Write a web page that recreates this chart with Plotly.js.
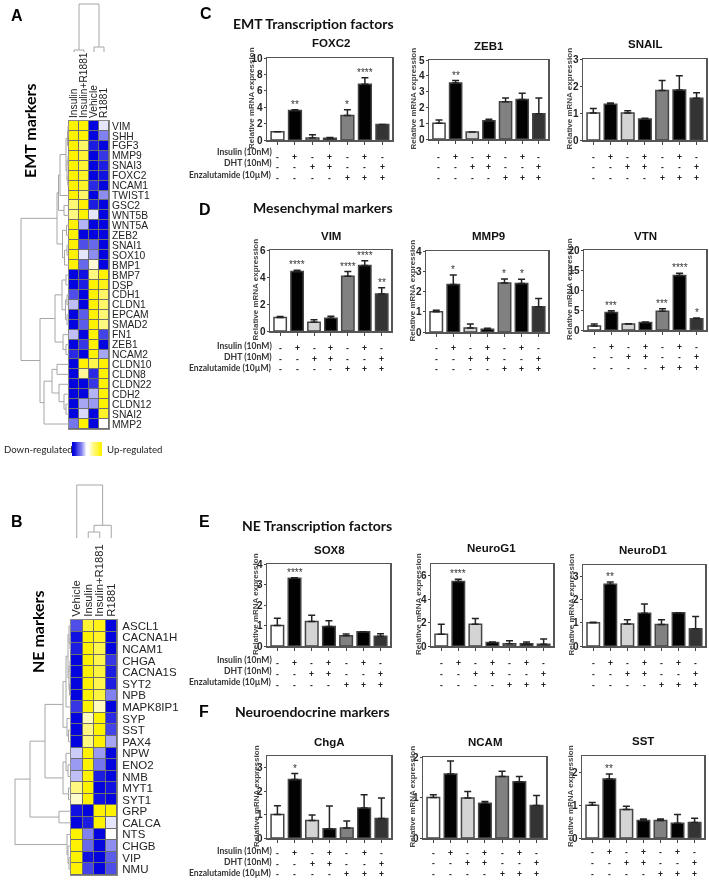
<!DOCTYPE html>
<html><head><meta charset="utf-8">
<script src="https://cdn.plot.ly/plotly-3.0.1.min.js"></script>
<style>html,body{margin:0;padding:0;background:#fff}
.main-svg .infolayer,.main-svg .cartesianlayer{opacity:.995}</style></head>
<body><div id="chart" style="width:709px;height:880px"></div>
<script>
// ---------- DATA ----------
const emtCols = ['Insulin','Insulin+R1881','Vehicle','R1881'];
const emtRows = ['VIM','SHH','FGF3','MMP9','SNAI3','FOXC2','NCAM1','TWIST1','GSC2','WNT5B','WNT5A','ZEB2','SNAI1','SOX10','BMP1','BMP7','DSP','CDH1','CLDN1','EPCAM','SMAD2','FN1','ZEB1','NCAM2','CLDN10','CLDN8','CLDN22','CDH2','CLDN12','SNAI2','MMP2'];
const emtZ = [[1,1,-1,-.1],[1,1,-1,-.5],[1,.6,-.9,-1],[1,.8,-1,-.8],[1,.8,-1,-.9],[1,.85,-1,-.95],[1,.85,-.85,-1],[1,.6,-1,-.45],[.55,1,-.9,-1],[.5,1,-.1,-1],[1,-.3,-1,-1],[1,-1,-1,-1],[1,-.7,-.6,-1],[1,-.1,-.45,-1],[1,-.6,.15,-1],[-1,-.95,.5,1],[-1,-.9,1,.9],[-.7,-1,1,.6],[-.25,-1,1,.6],[-1,-.65,1,.55],[-1,-.65,1,.5],[-.25,-1,1,-.75],[-1,-.8,1,-1],[-.85,-1,1,-.35],[-1,1,.7,1],[-1,.4,-.85,1],[-1,-1,-.8,1],[-1,-1,-.3,1],[-1,-.35,-.4,1],[-1,-.15,-1,.85],[-.55,1,-1,0]];
const neCols = ['Vehicle','Insulin','Insulin+R1881','R1881'];
const neRows = ['ASCL1','CACNA1H','NCAM1','CHGA','CACNA1S','SYT2','NPB','MAPK8IP1','SYP','SST','PAX4','NPW','ENO2','NMB','MYT1','SYT1','GRP','CALCA','NTS','CHGB','VIP','NMU'];
const neZ = [[-.7,.8,.9,-1],[-.95,1,.85,-1],[-.9,1,.7,-1],[-1,1,.7,-.8],[-1,1,.75,-.9],[-1,1,.7,-.9],[-1,1,.75,-.5],[-.8,1,.25,-1],[-1,.25,1,-.85],[-1,.5,1,-.75],[-1,.5,1,-.35],[-.2,1,-.4,-1],[-.4,1,-.55,-1],[-.25,1,-.9,-1],[.5,1,-1,-.95],[.2,1,-.95,-1],[-.95,-1,1,1],[-1,-.9,1,-.1],[1,-.5,-1,0],[1,-.6,-1,-.45],[1,-.95,-1,-.65],[1,-.75,-1,-.7]];
const colorKey = [-1,-.9,-.75,-.6,-.4,-.2,0,0,.2,.4,.6,.75,.9,1];
// dendrograms: [height, childA, childB]; a number is a leaf index
const emtRowTree = [48,
  [12,[10.5,[9,[3,[1.5,[1,0,1],2],[2,[1,3,4],[1.2,5,6]]],7],[5,8,9]],[6.5,[2.5,10,11],[4.5,[2,12,13],14]]],
  [29,[14,[7,[3,15,16],[3.5,[2,17,18],[2,19,20]]],[6,21,[3,22,23]]],
      [25,[17,[12,24,25],[10,26,[5,27,[3,28,29]]]],30]]];
const emtColTree = [48,[2,0,1],[5,2,3]];
const neRowTree = [56,[41,[26,[8,[5,[3,[2,0,[1,1,2]],[2,[1,3,4],[1.5,5,6]]],7],[4,8,[2.5,9,10]]],[8,[5,11,[3,12,13]],[2.5,14,15]]],[12,16,17]],[4,18,[3,19,[2,20,21]]]];
const neColTree = [53,0,[12.7,[6,1,2],3]];

const barColors = ['#ffffff','#000000','#d4d4d4','#000000','#808080','#000000','#333333'];
const insulinSigns = ['-','+','-','+','-','+','-'];
const dhtSigns = ['-','-','+','+','-','-','+'];
const enzaSigns = ['-','-','-','-','+','+','+'];
const signLabels = ['Insulin (10nM)','DHT (10nM)','Enzalutamide (10µM)'];

const foxc2Mean=[1,3.6,.25,.2,3,6.8,1.9],   foxc2Err=[0,.1,.4,.1,.7,.8,0],     foxc2Stars=['','**','','','*','****',''];
const zeb1Mean=[1,3.55,.45,1.15,2.35,2.5,1.6], zeb1Err=[.2,.15,0,.1,.25,.4,1], zeb1Stars=['','**','','','','',''];
const snailMean=[1,1.32,1,.78,1.83,1.85,1.55], snailErr=[.17,.05,.08,.03,.37,.53,.2], snailStars=['','','','','','',''];
const vimMean=[1,4.4,.65,.95,4.05,4.85,2.75], vimErr=[.08,.1,.18,.15,.35,.35,.45], vimStars=['','****','','','****','****','**'];
const mmp9Mean=[1,2.35,.2,.13,2.42,2.4,1.25], mmp9Err=[.08,.47,.2,.05,.2,.2,.4], mmp9Stars=['','*','','','*','*',''];
const vtnMean=[1,4.4,1.5,1.9,4.7,13.6,2.8], vtnErr=[.5,.4,.05,.1,.6,.6,.2], vtnStars=['','***','','','***','****','*'];
const sox8Mean=[1,3.3,1.2,.95,.5,.7,.48], sox8Err=[.35,.03,.3,.28,.08,0,.12], sox8Stars=['','****','','','','',''];
const neurog1Mean=[1,5.5,1.85,.3,.2,.2,.15], neurog1Err=[.85,.2,.5,.05,.25,.15,.45], neurog1Stars=['','****','','','','',''];
const neurod1Mean=[1,2.67,.95,1.42,.93,1.44,.75], neurod1Err=[.03,.1,.18,.4,.2,0,.53], neurod1Stars=['','**','','','','',''];
const chgaMean=[1,2.5,.75,.4,.43,1.28,.83], chgaErr=[.38,.25,.23,.97,.3,.57,.88], chgaStars=['','*','','','','',''];
const ncamMean=[1,1.58,.99,.86,1.52,1.39,.8], ncamErr=[.07,.32,.16,.04,.13,.13,.25], ncamStars=['','','','','','',''];
const sstMean=[1,1.8,.87,.53,.53,.45,.47], sstErr=[.08,.15,.1,.05,.05,.27,.13], sstStars=['','**','','','','',''];

// ---------- LAYOUT ----------
const W=709,H=880;
const px=x=>x/W, py=y=>1-y/H;
const yTitle='Relative mRNA expression';
const panels=[
 {t:'FOXC2',m:foxc2Mean,e:foxc2Err,s:foxc2Stars,ymax:10,dt:2,box:[267,392,58,140],tp:[331,43],yt:252,rows:[17,27,38],lab:[12,23,35]},
 {t:'ZEB1',m:zeb1Mean,e:zeb1Err,s:zeb1Stars,ymax:5,dt:1,box:[429,548,60,139],tp:[489,46],yt:413,rows:[18,28,39]},
 {t:'SNAIL',m:snailMean,e:snailErr,s:snailStars,ymax:3,dt:1,box:[583,706,59,140],tp:[645,44],yt:569,rows:[17,27,38]},
 {t:'VIM',m:vimMean,e:vimErr,s:vimStars,ymax:6,dt:2,box:[270,391,250,331],tp:[331,236],yt:255,rows:[17,28,38],lab:[15,26,37]},
 {t:'MMP9',m:mmp9Mean,e:mmp9Err,s:mmp9Stars,ymax:4,dt:1,box:[426,548,251,332],tp:[488,236],yt:412,rows:[16,27,37]},
 {t:'VTN',m:vtnMean,e:vtnErr,s:vtnStars,ymax:20,dt:5,box:[584,706,250,330],tp:[645,236],yt:570,rows:[17,27,38]},
 {t:'SOX8',m:sox8Mean,e:sox8Err,s:sox8Stars,ymax:4,dt:1,box:[267,390,564,646],tp:[329,550],yt:255,rows:[17,28,39],lab:[14,25,36]},
 {t:'NeuroG1',m:neurog1Mean,e:neurog1Err,s:neurog1Stars,ymax:7,dt:2,box:[431,553,564,646],tp:[491,548],yt:418,rows:[17,28,39]},
 {t:'NeuroD1',m:neurod1Mean,e:neurod1Err,s:neurod1Stars,ymax:3.5,dt:1,box:[583,705,565,646],tp:[643,550],yt:571,rows:[17,28,39]},
 {t:'ChgA',m:chgaMean,e:chgaErr,s:chgaStars,ymax:3.5,dt:1,box:[267,391,756,838],tp:[329,742],yt:256,rows:[15,26,36],lab:[13,24,35]},
 {t:'NCAM',m:ncamMean,e:ncamErr,s:ncamStars,ymax:2,dt:1,box:[423,546,757,838],tp:[485,742],yt:412,rows:[15,25,36]},
 {t:'SST',m:sstMean,e:sstErr,s:sstStars,ymax:2.5,dt:1,box:[582,704,756,838],tp:[643,741],yt:570,rows:[14,25,36]}
];
const traces=[], annotations=[], shapes=[];
const layout={width:W,height:H,margin:{l:0,r:0,t:0,b:0,pad:0},paper_bgcolor:'#fff',plot_bgcolor:'rgba(0,0,0,0)',showlegend:false,font:{family:'Liberation Sans',color:'#222'},annotations,shapes};
const ARIAL='Liberation Sans', CAL='Lato';
function note(text,x,y,size,o={}){
  annotations.push(Object.assign({text,xref:'paper',yref:'paper',x:px(x),y:py(y),xanchor:'center',yanchor:'middle',showarrow:false,
    font:{family:o.family||ARIAL,size,color:o.color||'#111',weight:o.weight||'normal'},borderpad:0,borderwidth:0},o.extra||{}));
}
const signSets=[insulinSigns,dhtSigns,enzaSigns];
panels.forEach((p,i)=>{
  const n=i+1,[l,r,t,b]=p.box;
  traces.push({type:'bar',x:[0,1,2,3,4,5,6],y:p.m,width:.73,xaxis:'x'+n,yaxis:'y'+n,
    marker:{color:barColors,line:{color:'#444',width:1.5}},
    error_y:{type:'data',symmetric:false,array:p.e,arrayminus:[0,0,0,0,0,0,0],color:'#222',thickness:1.5,width:3.5},hoverinfo:'skip'});
  layout['xaxis'+n]={domain:[px(l),px(r)],anchor:'y'+n,range:[-.6,6.55],showgrid:false,zeroline:false,showline:true,mirror:true,linecolor:'#555',linewidth:1.5,
    tickmode:'array',tickvals:[0,1,2,3,4,5,6],ticks:'outside',ticklen:3,tickwidth:1,tickcolor:'#444',showticklabels:false};
  layout['yaxis'+n]={domain:[py(b),py(t)],anchor:'x'+n,range:[0,p.ymax],showgrid:false,zeroline:false,showline:true,mirror:true,linecolor:'#555',linewidth:1.5,
    dtick:p.dt,tick0:0,ticks:'outside',ticklen:2,tickwidth:1,tickcolor:'#444',ticklabelstandoff:-1,tickfont:{family:ARIAL,size:10,color:'#222',weight:'bold'}};
  note(p.t,p.tp[0],p.tp[1],11.5,{weight:'bold'});
  note(yTitle,p.yt,(t+b)/2-1,8,{weight:'bold',color:'#444',extra:{textangle:-90}});
  p.s.forEach((s,k)=>{ if(s) annotations.push({text:s,xref:'x'+n,yref:'y'+n,x:k,y:p.m[k]+p.e[k],xanchor:'center',yanchor:'bottom',yshift:-1,showarrow:false,font:{family:ARIAL,size:10,color:'#333'},borderpad:0}); });
  signSets.forEach((set,r2)=>set.forEach((s,k)=>{
    annotations.push({text:s,xref:'x'+n,yref:'paper',x:k,y:py(b+p.rows[r2]),xanchor:'center',yanchor:'middle',showarrow:false,font:{family:ARIAL,size:8.5,color:'#222',weight:'bold'},borderpad:0});
  }));
  if(p.lab) signLabels.forEach((s,r2)=>{
    note(s,272,b+p.lab[r2],8.6,{family:CAL,weight:'bold',color:'#333',extra:{xanchor:'right'}});
  });
});
// tree -> path in (height, leaf position) units
function treePath(tree){
  const hs=[],ps=[];
  (function walk(nd){
    if(typeof nd==='number') return {h:0,p:nd};
    const a=walk(nd[1]),b=walk(nd[2]);
    hs.push(a.h,nd[0],nd[0],b.h,null); ps.push(a.p,a.p,b.p,b.p,null);
    return {h:nd[0],p:(a.p+b.p)/2};
  })(tree);
  return {hs,ps};
}
const dendColor='#a6a6a6';
let axN=20;
function heat(cols,rows,z,box,rowFont,colFont,rowTree,rowDom,rowMax,colTree,colDom,colMax,rowOff){
  const n=++axN,[l,r,t,b]=box;
  const xv=cols.map((_,i)=>i), yv=rows.map((_,i)=>i);
  traces.push({type:'heatmap',x:xv,y:yv,z,xaxis:'x'+n,yaxis:'y'+n,zmin:-1,zmax:1,showscale:false,xgap:1,ygap:1,hoverinfo:'skip',
    colorscale:[[0,'#0404e0'],[.5,'#ffffff'],[1,'#fff200']]});
  layout['xaxis'+n]={domain:[px(l),px(r)],anchor:'y'+n,side:'top',range:[-.5,cols.length-.5],tickmode:'array',tickvals:xv,ticktext:cols,tickangle:-90,ticks:'',showgrid:false,zeroline:false,showline:true,mirror:true,linecolor:'#888',linewidth:1,tickfont:{family:ARIAL,size:colFont,color:'#222'}};
  layout['yaxis'+n]={domain:[py(b),py(t)],anchor:'x'+n,side:'right',range:[rows.length-.5,-.5],tickmode:'array',tickvals:yv,ticktext:rows,ticks:'',ticklabelstandoff:rowOff,showgrid:false,zeroline:false,showline:true,mirror:true,linecolor:'#888',linewidth:1,tickfont:{family:ARIAL,size:rowFont,color:'#222'}};
  shapes.push({type:'rect',xref:'x'+n+' domain',yref:'y'+n+' domain',x0:0,x1:1,y0:0,y1:1,fillcolor:'#6e6e6e',line:{width:0},layer:'below'});
  // row dendrogram
  const rn=++axN, rp=treePath(rowTree);
  traces.push({type:'scatter',mode:'lines',x:rp.hs,y:rp.ps,xaxis:'x'+rn,yaxis:'y'+rn,line:{color:dendColor,width:1},connectgaps:false,hoverinfo:'skip'});
  layout['xaxis'+rn]={domain:[px(rowDom[0]),px(rowDom[1])],range:[rowMax,0],visible:false,anchor:'y'+rn};
  layout['yaxis'+rn]={domain:[py(b),py(t)],range:[rows.length-.5,-.5],visible:false,anchor:'x'+rn};
  // column dendrogram
  const cn=++axN, cp=treePath(colTree);
  traces.push({type:'scatter',mode:'lines',x:cp.ps,y:cp.hs,xaxis:'x'+cn,yaxis:'y'+cn,line:{color:dendColor,width:1},connectgaps:false,hoverinfo:'skip'});
  layout['xaxis'+cn]={domain:[px(l),px(r)],range:[-.5,cols.length-.5],visible:false,anchor:'y'+cn};
  layout['yaxis'+cn]={domain:[py(colDom[1]),py(colDom[0])],range:[0,colMax],visible:false,anchor:'x'+cn};
}
heat(emtCols,emtRows,emtZ,[69,109,121,429],10.3,10.2,emtRowTree,[19,69],50,emtColTree,[2,52],50,0);
heat(neCols,neRows,neZ,[71,117,620,875],11.5,11.3,neRowTree,[13,71],58,neColTree,[483,538],55,2);
// colour key
const kn=++axN;
traces.push({type:'heatmap',z:[colorKey],xaxis:'x'+kn,yaxis:'y'+kn,zmin:-1,zmax:1,zsmooth:'best',showscale:false,hoverinfo:'skip',colorscale:[[0,'#0404e0'],[.5,'#ffffff'],[1,'#fff200']]});
layout['xaxis'+kn]={domain:[px(72),px(102)],visible:false,anchor:'y'+kn};
layout['yaxis'+kn]={domain:[py(456),py(442)],visible:false,anchor:'x'+kn};
note('Down-regulated',38,449,9.6,{family:CAL,color:'#222'});
note('Up-regulated',134,449,9.6,{family:CAL,color:'#222'});
// headings
[['A',17,15],['B',17,521],['C',206,14],['D',205,209],['E',204,521],['F',204,711]].forEach(a=>note(a[0],a[1],a[2],16,{weight:'bold',color:'#000'}));
note('EMT Transcription factors',313,24,14,{family:CAL,weight:'bold',color:'#111'});
note('Mesenchymal markers',323,208,14,{family:CAL,weight:'bold',color:'#111'});
note('NE Transcription factors',317,525,14,{family:CAL,weight:'bold',color:'#111'});
note('Neuroendocrine markers',312,711,14,{family:CAL,weight:'bold',color:'#111'});
note('EMT markers',29,131,16,{family:CAL,weight:'bold',color:'#000',extra:{textangle:-90}});
note('NE markers',37,632,16,{family:CAL,weight:'bold',color:'#000',extra:{textangle:-90}});

Plotly.newPlot('chart',traces,layout,{staticPlot:true,displayModeBar:false});
</script></body></html>
